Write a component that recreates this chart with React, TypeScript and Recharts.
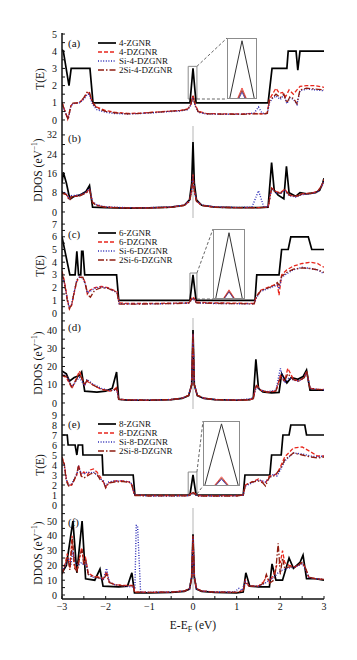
import React from 'react';
import { LineChart, Line, XAxis, YAxis, ReferenceLine, ReferenceArea } from 'recharts';

type Pt = [number, number];

// shared x ticks (E - E_F, eV)
const xTicks = [-3, -2.5, -2, -1.5, -1, -0.5, 0, 0.5, 1, 1.5, 2, 2.5, 3];

// ---- panel (a): T(E), 4-wide ribbons
const aNames = ['4-ZGNR', '4-DZGNR', 'Si-4-DZGNR', '2Si-4-DZGNR'];
const aYTicks = [0, 0.5, 1, 1.5, 2, 2.5, 3, 3.5, 4, 4.5, 5];
const aZ: Pt[] = [[-3, 4.1], [-2.97, 4], [-2.84, 2], [-2.79, 3], [-2.36, 3], [-2.29, 1], [-0.07, 1], [0, 3], [0.07, 1], [1.72, 1], [1.81, 3], [2.15, 3], [2.18, 4], [2.36, 4], [2.4, 2.9], [2.45, 4], [3, 4]];
const aD: Pt[] = [[-3, 1.05], [-2.93, 0.5], [-2.87, 0.05], [-2.8, 0.8], [-2.76, 0.95], [-2.62, 1.0], [-2.5, 1.25], [-2.42, 1.6], [-2.38, 1.55], [-2.3, 1.0], [-2.2, 0.75], [-2.0, 0.55], [-1.8, 0.45], [-1.5, 0.38], [-1.2, 0.4], [-0.9, 0.45], [-0.6, 0.5], [-0.3, 0.55], [-0.12, 0.65], [-0.05, 0.9], [0, 1.45], [0.05, 0.9], [0.12, 0.5], [0.3, 0.38], [0.7, 0.35], [1.1, 0.35], [1.4, 0.38], [1.6, 0.35], [1.7, 0.4], [1.75, 1.2], [1.82, 1.5], [1.9, 1.85], [1.98, 1.55], [2.05, 1.6], [2.12, 1.35], [2.2, 1.75], [2.3, 1.5], [2.38, 1.75], [2.45, 1.95], [2.6, 2.0], [2.8, 2.0], [3, 1.9]];
const aS: Pt[] = [[-3, 0.95], [-2.93, 0.45], [-2.86, 0.05], [-2.8, 0.75], [-2.75, 0.95], [-2.6, 1.0], [-2.5, 1.2], [-2.42, 1.5], [-2.38, 1.5], [-2.3, 0.9], [-2.2, 0.6], [-2.0, 0.45], [-1.8, 0.38], [-1.5, 0.35], [-1.2, 0.38], [-0.9, 0.42], [-0.6, 0.48], [-0.3, 0.52], [-0.12, 0.6], [-0.05, 0.85], [0, 1.3], [0.05, 0.8], [0.12, 0.45], [0.3, 0.35], [0.7, 0.33], [1.1, 0.33], [1.4, 0.4], [1.5, 0.75], [1.58, 0.4], [1.7, 0.35], [1.75, 1.0], [1.82, 1.25], [1.9, 1.4], [2.0, 1.2], [2.08, 1.45], [2.15, 0.95], [2.22, 1.3], [2.3, 1.2], [2.38, 0.9], [2.45, 1.7], [2.6, 1.8], [2.8, 1.75], [3, 1.7]];
const aT: Pt[] = [[-3, 1.0], [-2.93, 0.5], [-2.86, 0.02], [-2.8, 0.8], [-2.75, 0.98], [-2.6, 1.0], [-2.5, 1.3], [-2.42, 1.65], [-2.37, 1.6], [-2.3, 1.0], [-2.2, 0.7], [-2.0, 0.5], [-1.8, 0.42], [-1.5, 0.36], [-1.2, 0.38], [-0.9, 0.44], [-0.6, 0.5], [-0.3, 0.55], [-0.12, 0.62], [-0.05, 0.9], [0, 1.4], [0.05, 0.85], [0.12, 0.48], [0.3, 0.36], [0.7, 0.34], [1.1, 0.33], [1.4, 0.36], [1.6, 0.35], [1.7, 0.38], [1.75, 1.1], [1.82, 1.3], [1.9, 1.5], [2.0, 1.3], [2.08, 1.5], [2.15, 1.0], [2.22, 1.35], [2.3, 1.25], [2.38, 0.95], [2.45, 1.75], [2.6, 1.85], [2.8, 1.8], [3, 1.75]];
// zoomed peak at E_F (inset)
const aInZ: Pt[] = [[-0.87, 0], [0, 0.97], [0.87, 0]];
const aInD: Pt[] = [[-0.3, 0], [0, 0.17], [0.3, 0]];
const aInS: Pt[] = [[-0.2, 0], [0, 0.1], [0.2, 0]];
const aInT: Pt[] = [[-0.25, 0], [0, 0.13], [0.25, 0]];

// ---- panel (b): DDOS, 4-wide
const bYTicks = [0, 4, 8, 12, 16, 20, 24, 28, 32];
const bZ: Pt[] = [[-3, 12], [-2.97, 16.5], [-2.9, 12], [-2.84, 7], [-2.8, 5.5], [-2.72, 6.5], [-2.6, 7], [-2.45, 8.5], [-2.37, 11], [-2.3, 2], [-2.0, 1.8], [-1.5, 1.6], [-1.0, 1.7], [-0.5, 2.0], [-0.2, 2.8], [-0.08, 5], [-0.03, 12], [0, 29], [0.03, 12], [0.08, 5], [0.2, 2.8], [0.5, 2.0], [1.0, 1.8], [1.5, 1.8], [1.72, 2.0], [1.8, 20.5], [1.86, 9], [1.95, 7], [2.08, 5.5], [2.14, 19], [2.2, 8], [2.35, 6.5], [2.45, 8], [2.6, 7.5], [2.8, 8], [2.9, 9], [2.97, 12], [3, 14]];
const bD: Pt[] = [[-3, 8], [-2.9, 7.5], [-2.83, 5], [-2.78, 6.5], [-2.6, 6.8], [-2.45, 8], [-2.37, 9.5], [-2.3, 4], [-2.2, 2.8], [-2.0, 2.0], [-1.5, 1.7], [-1.0, 1.7], [-0.5, 2.0], [-0.2, 2.8], [-0.08, 4.5], [-0.03, 9], [0, 15.5], [0.03, 9], [0.08, 4.5], [0.2, 2.8], [0.5, 2.0], [1.0, 1.8], [1.5, 1.8], [1.72, 2.0], [1.8, 10], [1.9, 8.5], [2.0, 8], [2.1, 9.5], [2.2, 7], [2.35, 6.5], [2.5, 7.5], [2.7, 7.8], [2.85, 8.5], [2.95, 11], [3, 13.5]];
const bS: Pt[] = [[-3, 8.5], [-2.9, 7.8], [-2.83, 5.2], [-2.78, 6.8], [-2.6, 7], [-2.45, 8.2], [-2.37, 9.8], [-2.3, 4.2], [-2.2, 3], [-2.0, 2.1], [-1.5, 1.8], [-1.0, 1.8], [-0.5, 2.1], [-0.2, 2.9], [-0.08, 4.6], [-0.03, 9], [0, 15], [0.03, 9], [0.08, 4.6], [0.2, 2.9], [0.5, 2.1], [1.0, 1.9], [1.35, 2.0], [1.5, 8.8], [1.62, 2.2], [1.72, 2.2], [1.8, 9.5], [1.9, 8], [2.0, 7.5], [2.1, 9], [2.2, 6.8], [2.35, 6.2], [2.5, 7.2], [2.7, 7.6], [2.85, 8.2], [2.95, 10.5], [3, 13]];
const bT: Pt[] = [[-3, 7.8], [-2.9, 7.2], [-2.83, 4.8], [-2.78, 6.3], [-2.6, 6.6], [-2.45, 7.8], [-2.37, 9.2], [-2.3, 3.8], [-2.2, 2.7], [-2.0, 1.9], [-1.5, 1.7], [-1.0, 1.7], [-0.5, 1.9], [-0.2, 2.7], [-0.08, 4.4], [-0.03, 8.5], [0, 15], [0.03, 8.5], [0.08, 4.4], [0.2, 2.7], [0.5, 1.9], [1.0, 1.8], [1.5, 1.8], [1.72, 2.0], [1.8, 9.8], [1.9, 8.2], [2.0, 7.8], [2.1, 9.2], [2.2, 7.2], [2.35, 6.4], [2.5, 7.4], [2.7, 7.7], [2.85, 8.4], [2.95, 10.8], [3, 13.2]];

// ---- panel (c): T(E), 6-wide
const cNames = ['6-ZGNR', '6-DZGNR', 'Si-6-DZGNR', '2Si-6-DZGNR'];
const cYTicks = [0, 0.5, 1, 1.5, 2, 2.5, 3, 3.5, 4, 4.5, 5, 5.5, 6, 6.5, 7];
const cZ: Pt[] = [[-3, 6], [-2.82, 3], [-2.7, 3], [-2.66, 4.85], [-2.62, 3], [-2.57, 3], [-2.55, 4.85], [-2.52, 4.85], [-2.48, 3], [-1.75, 3], [-1.7, 1], [-0.07, 1], [0, 3], [0.07, 1], [1.42, 1], [1.46, 3], [1.97, 3], [2.03, 5], [2.18, 5], [2.24, 6], [2.64, 6], [2.72, 5], [3, 5]];
const cD: Pt[] = [[-3, 3.3], [-2.95, 2.6], [-2.88, 1.2], [-2.83, 0.3], [-2.78, 0.6], [-2.72, 1.6], [-2.66, 2.5], [-2.6, 2.8], [-2.52, 2.8], [-2.47, 2.4], [-2.42, 1.5], [-2.36, 1.8], [-2.25, 2.0], [-2.1, 2.1], [-1.95, 2.0], [-1.82, 1.8], [-1.74, 1.7], [-1.69, 0.8], [-1.5, 0.75], [-1.0, 0.75], [-0.5, 0.78], [-0.1, 0.8], [0, 1.3], [0.08, 0.85], [0.5, 0.8], [1.0, 0.78], [1.4, 0.75], [1.45, 1.3], [1.55, 1.8], [1.7, 2.0], [1.85, 2.2], [1.93, 2.3], [1.97, 1.4], [2.03, 3.0], [2.15, 3.4], [2.3, 3.7], [2.5, 3.9], [2.7, 4.0], [2.85, 3.9], [3, 3.6]];
const cS: Pt[] = [[-3, 3.0], [-2.95, 2.4], [-2.88, 1.1], [-2.83, 0.45], [-2.78, 0.7], [-2.72, 1.7], [-2.66, 2.6], [-2.6, 2.85], [-2.52, 2.75], [-2.47, 2.3], [-2.42, 1.6], [-2.36, 1.7], [-2.25, 1.95], [-2.1, 2.05], [-1.95, 1.95], [-1.82, 1.75], [-1.74, 1.6], [-1.69, 0.75], [-1.5, 0.72], [-1.0, 0.72], [-0.5, 0.75], [-0.1, 0.78], [0, 1.15], [0.08, 0.8], [0.5, 0.75], [1.0, 0.74], [1.4, 0.72], [1.45, 1.2], [1.55, 1.7], [1.7, 1.9], [1.85, 2.1], [1.93, 2.2], [1.97, 1.9], [2.03, 2.8], [2.15, 3.1], [2.3, 3.4], [2.5, 3.6], [2.7, 3.5], [2.85, 3.4], [3, 3.1]];
const cT: Pt[] = [[-3, 3.1], [-2.95, 2.5], [-2.88, 1.0], [-2.83, 0.35], [-2.78, 0.65], [-2.72, 1.65], [-2.66, 2.6], [-2.6, 2.8], [-2.52, 2.8], [-2.47, 2.3], [-2.4, 1.4], [-2.35, 1.25], [-2.25, 1.8], [-2.1, 2.0], [-1.95, 1.95], [-1.82, 1.75], [-1.74, 1.65], [-1.69, 0.7], [-1.5, 0.7], [-1.0, 0.72], [-0.5, 0.74], [-0.1, 0.78], [0, 1.2], [0.08, 0.8], [0.5, 0.76], [1.0, 0.74], [1.4, 0.72], [1.45, 1.25], [1.55, 1.75], [1.7, 1.95], [1.85, 2.15], [1.93, 2.4], [1.97, 2.2], [2.03, 2.9], [2.15, 3.2], [2.3, 3.45], [2.5, 3.55], [2.7, 3.5], [2.85, 3.4], [3, 3.2]];
const cInZ: Pt[] = [[-0.88, 0], [0, 0.96], [0.88, 0]];
const cInD: Pt[] = [[-0.35, 0], [0, 0.12], [0.35, 0]];
const cInS: Pt[] = [[-0.28, 0], [0, 0.09], [0.28, 0]];
const cInT: Pt[] = [[-0.32, 0], [0, 0.1], [0.32, 0]];

// ---- panel (d): DDOS, 6-wide
const dYTicks = [0, 5, 10, 15, 20, 25, 30, 35, 40, 45];
const dZ: Pt[] = [[-3, 17.5], [-2.9, 16], [-2.83, 12], [-2.72, 14], [-2.6, 15], [-2.55, 17], [-2.48, 6.5], [-2.2, 6], [-2.0, 6.5], [-1.85, 8], [-1.75, 17], [-1.7, 2], [-1.5, 1.6], [-1.0, 1.5], [-0.5, 1.8], [-0.25, 2.5], [-0.1, 4], [-0.03, 10], [0, 40], [0.03, 10], [0.1, 4], [0.25, 2.5], [0.5, 1.8], [1.0, 1.5], [1.3, 1.8], [1.38, 2.5], [1.44, 24], [1.5, 8], [1.6, 6], [1.8, 5.5], [1.97, 5.8], [2.03, 16], [2.15, 11], [2.25, 14], [2.4, 13], [2.52, 14.5], [2.6, 18], [2.68, 7], [3, 7]];
const dD: Pt[] = [[-3, 15], [-2.9, 14], [-2.77, 8], [-2.68, 13], [-2.6, 17.5], [-2.55, 14], [-2.48, 10], [-2.43, 12], [-2.3, 10], [-2.1, 7.5], [-1.9, 6.5], [-1.8, 7.5], [-1.75, 8.5], [-1.7, 2], [-1.5, 1.7], [-1.0, 1.6], [-0.5, 1.9], [-0.25, 2.6], [-0.1, 4.2], [-0.03, 10], [0, 38], [0.03, 10], [0.1, 4.2], [0.25, 2.6], [0.5, 1.9], [1.0, 1.6], [1.3, 1.8], [1.38, 2.5], [1.45, 10], [1.55, 7], [1.7, 6], [1.9, 6.5], [2.0, 15], [2.1, 12], [2.17, 19], [2.3, 13], [2.42, 12], [2.55, 14], [2.6, 17.5], [2.68, 8], [2.85, 7.5], [3, 7.5]];
const dS: Pt[] = [[-3, 16], [-2.9, 15], [-2.77, 9], [-2.68, 12], [-2.6, 14], [-2.55, 12], [-2.48, 9.5], [-2.43, 13], [-2.3, 10.5], [-2.1, 8], [-1.9, 6.8], [-1.8, 7], [-1.75, 7.5], [-1.7, 2], [-1.5, 1.7], [-1.0, 1.6], [-0.5, 1.9], [-0.25, 2.6], [-0.1, 4.2], [-0.03, 10], [0, 38], [0.03, 10], [0.1, 4.2], [0.25, 2.6], [0.5, 1.9], [1.0, 1.7], [1.3, 2.2], [1.38, 2.8], [1.45, 9], [1.55, 7], [1.7, 6.2], [1.9, 7], [2.0, 19], [2.1, 11], [2.2, 14], [2.3, 12.5], [2.42, 12], [2.55, 14], [2.6, 17], [2.68, 8], [2.85, 7.5], [3, 7.2]];
const dT: Pt[] = [[-3, 15.5], [-2.9, 14.5], [-2.77, 8.5], [-2.68, 12.5], [-2.6, 16], [-2.55, 13.5], [-2.48, 9.8], [-2.43, 12.5], [-2.3, 10], [-2.1, 7.5], [-1.9, 6.6], [-1.8, 7.2], [-1.75, 8], [-1.7, 2], [-1.5, 1.7], [-1.0, 1.6], [-0.5, 1.9], [-0.25, 2.6], [-0.1, 4.2], [-0.03, 10], [0, 38], [0.03, 10], [0.1, 4.2], [0.25, 2.6], [0.5, 1.9], [1.0, 1.6], [1.3, 1.8], [1.38, 2.6], [1.45, 9.5], [1.55, 7], [1.7, 6], [1.9, 6.6], [2.0, 14], [2.1, 12], [2.17, 16], [2.3, 12.8], [2.42, 12], [2.55, 14], [2.6, 17.5], [2.68, 8], [2.85, 7.5], [3, 7.3]];

// ---- panel (e): T(E), 8-wide
const eNames = ['8-ZGNR', '8-DZGNR', 'Si-8-DZGNR', '2Si-8-DZGNR'];
const eYTicks = [0, 1, 2, 3, 4, 5, 6, 7, 8, 9];
const eZ: Pt[] = [[-3, 7], [-2.88, 7], [-2.86, 6], [-2.7, 6], [-2.66, 5], [-2.63, 6], [-2.53, 6], [-2.52, 5], [-2.08, 5], [-2.06, 3], [-1.37, 3], [-1.33, 1], [-0.07, 1], [0, 3], [0.07, 1], [1.15, 1], [1.19, 3], [1.76, 3], [1.8, 5], [2.02, 5], [2.06, 7], [2.2, 7], [2.24, 8], [2.56, 8], [2.6, 7], [3, 7]];
const eD: Pt[] = [[-3, 4.8], [-2.95, 4.2], [-2.9, 2.6], [-2.85, 2.0], [-2.78, 2.0], [-2.72, 2.5], [-2.66, 3.0], [-2.62, 4.0], [-2.56, 3.0], [-2.5, 3.3], [-2.42, 3.0], [-2.35, 3.5], [-2.28, 3.6], [-2.2, 3.3], [-2.12, 2.8], [-2.05, 2.3], [-2.0, 1.8], [-1.93, 2.2], [-1.8, 2.4], [-1.6, 2.4], [-1.45, 2.3], [-1.4, 2.0], [-1.34, 1.0], [-1.0, 0.95], [-0.5, 0.95], [-0.1, 0.95], [0, 1.3], [0.1, 0.95], [0.5, 0.92], [1.0, 0.95], [1.15, 1.0], [1.2, 2.0], [1.35, 2.3], [1.5, 2.6], [1.6, 2.3], [1.66, 2.2], [1.75, 2.9], [1.85, 3.0], [1.92, 3.1], [2.0, 3.8], [2.1, 4.8], [2.3, 5.7], [2.5, 5.8], [2.7, 5.3], [2.85, 4.9], [3, 4.9]];
const eS: Pt[] = [[-3, 4.5], [-2.95, 4.0], [-2.9, 2.5], [-2.85, 2.0], [-2.78, 2.1], [-2.72, 2.6], [-2.66, 3.1], [-2.62, 3.8], [-2.56, 3.2], [-2.5, 3.1], [-2.42, 3.3], [-2.35, 3.2], [-2.28, 3.3], [-2.2, 3.0], [-2.12, 2.6], [-2.05, 2.4], [-2.0, 1.9], [-1.93, 2.3], [-1.8, 2.4], [-1.6, 2.4], [-1.45, 2.3], [-1.4, 2.1], [-1.34, 1.0], [-1.0, 0.9], [-0.5, 0.9], [-0.1, 0.92], [0, 1.2], [0.1, 0.9], [0.5, 0.9], [1.0, 0.92], [1.15, 1.0], [1.2, 1.9], [1.35, 2.2], [1.5, 2.5], [1.6, 2.4], [1.66, 2.3], [1.75, 2.7], [1.85, 3.1], [1.92, 2.9], [2.0, 3.5], [2.1, 4.4], [2.3, 5.2], [2.5, 5.1], [2.7, 4.9], [2.85, 4.8], [3, 4.9]];
const eT: Pt[] = [[-3, 4.6], [-2.95, 4.1], [-2.9, 2.4], [-2.85, 1.9], [-2.78, 2.0], [-2.72, 2.5], [-2.66, 3.2], [-2.62, 3.9], [-2.56, 2.9], [-2.5, 2.7], [-2.42, 2.9], [-2.35, 3.1], [-2.28, 3.2], [-2.2, 3.1], [-2.12, 2.5], [-2.05, 2.3], [-2.0, 1.7], [-1.93, 2.2], [-1.8, 2.3], [-1.6, 2.35], [-1.45, 2.25], [-1.4, 2.0], [-1.34, 0.95], [-1.0, 0.9], [-0.5, 0.92], [-0.1, 0.92], [0, 1.25], [0.1, 0.9], [0.5, 0.9], [1.0, 0.9], [1.15, 1.0], [1.2, 2.0], [1.35, 2.3], [1.5, 2.4], [1.6, 2.2], [1.66, 1.9], [1.75, 2.8], [1.85, 2.9], [1.92, 3.2], [2.0, 3.6], [2.1, 4.5], [2.3, 5.2], [2.5, 5.0], [2.7, 4.8], [2.85, 4.7], [3, 4.8]];
const eInZ: Pt[] = [[-0.95, 0], [0, 0.97], [0.95, 0]];
const eInD: Pt[] = [[-0.38, 0], [0, 0.13], [0.38, 0]];
const eInS: Pt[] = [[-0.3, 0], [0, 0.09], [0.3, 0]];
const eInT: Pt[] = [[-0.34, 0], [0, 0.11], [0.34, 0]];

// ---- panel (f): DDOS, 8-wide
const fYTicks = [0, 5, 10, 15, 20, 25, 30, 35, 40, 45, 50, 55];
const fZ: Pt[] = [[-3, 15], [-2.9, 20], [-2.75, 50], [-2.66, 15], [-2.54, 50], [-2.46, 11], [-2.25, 10], [-2.13, 17.5], [-2.06, 6], [-1.7, 5.5], [-1.5, 6], [-1.4, 15], [-1.34, 1.5], [-1.0, 1.5], [-0.5, 1.8], [-0.2, 2.5], [-0.08, 4], [-0.03, 12], [0, 41], [0.03, 12], [0.08, 4], [0.2, 2.5], [0.5, 1.8], [1.0, 1.5], [1.15, 2], [1.21, 15], [1.3, 6], [1.5, 5.5], [1.75, 5.5], [1.81, 21], [1.9, 10], [2.05, 10], [2.2, 25], [2.3, 18], [2.45, 22], [2.52, 27], [2.6, 11], [2.8, 11], [3, 10]];
const fD: Pt[] = [[-3, 15], [-2.92, 22], [-2.88, 28], [-2.82, 18], [-2.77, 40], [-2.72, 20], [-2.66, 17], [-2.6, 25], [-2.55, 32], [-2.5, 22], [-2.46, 25], [-2.4, 15], [-2.3, 13], [-2.15, 12], [-2.05, 11], [-1.98, 16], [-1.92, 9], [-1.8, 7], [-1.6, 6.5], [-1.45, 6.5], [-1.36, 6.5], [-1.34, 2], [-1.0, 1.8], [-0.5, 2.0], [-0.2, 2.7], [-0.08, 4.2], [-0.03, 12], [0, 40], [0.03, 12], [0.08, 4.2], [0.2, 2.7], [0.5, 2.0], [1.0, 1.8], [1.15, 3], [1.2, 10], [1.28, 6], [1.5, 6], [1.62, 9], [1.68, 13], [1.75, 9], [1.85, 14], [1.92, 20], [2.0, 22], [2.05, 30], [2.1, 22], [2.2, 20], [2.35, 19], [2.5, 22], [2.58, 18], [2.65, 12], [2.8, 11], [3, 10.5]];
const fS: Pt[] = [[-3, 16], [-2.92, 20], [-2.85, 25], [-2.8, 20], [-2.75, 30], [-2.7, 22], [-2.62, 20], [-2.55, 22], [-2.5, 20], [-2.45, 22], [-2.4, 14], [-2.3, 12], [-2.15, 11.5], [-2.05, 10.5], [-1.98, 18], [-1.92, 9], [-1.8, 7], [-1.6, 6], [-1.4, 5.5], [-1.33, 5], [-1.3, 47], [-1.27, 47], [-1.2, 2], [-1.0, 1.8], [-0.5, 2.0], [-0.2, 2.7], [-0.08, 4.2], [-0.03, 12], [0, 40], [0.03, 12], [0.08, 4.2], [0.2, 2.7], [0.5, 2.0], [0.95, 2], [1.05, 4.5], [1.12, 3], [1.2, 9], [1.28, 6], [1.5, 6], [1.65, 8], [1.75, 10], [1.85, 12], [1.95, 15], [2.05, 17], [2.15, 18], [2.35, 19], [2.5, 21], [2.58, 17], [2.65, 12], [2.8, 11], [3, 10.5]];
const fT: Pt[] = [[-3, 14], [-2.92, 21], [-2.87, 26], [-2.82, 17], [-2.76, 38], [-2.71, 18], [-2.65, 16], [-2.58, 28], [-2.54, 30], [-2.5, 20], [-2.46, 24], [-2.4, 14], [-2.3, 12.5], [-2.15, 11.5], [-2.05, 10.5], [-1.98, 14], [-1.92, 8.5], [-1.8, 7], [-1.6, 6.2], [-1.45, 6.2], [-1.36, 6.2], [-1.34, 2], [-1.0, 1.8], [-0.5, 2.0], [-0.2, 2.7], [-0.08, 4.2], [-0.03, 12], [0, 40], [0.03, 12], [0.08, 4.2], [0.2, 2.7], [0.5, 2.0], [1.0, 1.8], [1.15, 3], [1.2, 8], [1.28, 6], [1.5, 6], [1.62, 8], [1.68, 14], [1.75, 8], [1.85, 10], [1.9, 18], [1.95, 35], [2.0, 14], [2.05, 25], [2.1, 18], [2.2, 19], [2.35, 19], [2.5, 22], [2.58, 18], [2.65, 12], [2.8, 11], [3, 10.5]];

const FONT = '"Liberation Serif", "Times New Roman", serif';
const PL = 62; // plot left px
const PR = 324; // plot right px

const STYLES = [
  { color: '#000000', dash: undefined as string | undefined, width: 1.7 },
  { color: '#e8261c', dash: '4 2', width: 1.3 },
  { color: '#2a2ab5', dash: '1 1.6', width: 1.4 },
  { color: '#8e1d10', dash: '6 2 1.5 2', width: 1.3 },
];

interface Inset {
  box: [number, number, number, number]; // small box in data coords x1,x2,y1,y2
  left: number; top: number; w: number; h: number; // big box, px
  curves: Pt[][];
}

interface PanelCfg {
  top: number;
  bottom: number;
  domain: [number, number];
  yTicks: number[];
  major: number;
  series: Pt[][];
  zeroLine?: boolean;
  showX?: boolean;
  inset?: Inset;
}

const toXY = (pts: Pt[]) => pts.map(([x, y]) => ({ x, y }));
const fmtX = (v: number) => (Number.isInteger(v) ? (v < 0 ? '\u2212' + Math.abs(v) : String(v)) : '');

const panels: PanelCfg[] = [
  { top: 33, bottom: 126, domain: [-0.35, 5.06], yTicks: aYTicks, major: 1, series: [aZ, aD, aS, aT],
    inset: { box: [-0.11, 0.09, 1.22, 3.12], left: 227, top: 38, w: 30, h: 61, curves: [aInZ, aInD, aInS, aInT] } },
  { top: 126, bottom: 218, domain: [-2.5, 35.7], yTicks: bYTicks, major: 8, series: [bZ, bD, bS, bT], zeroLine: true },
  { top: 218, bottom: 318, domain: [-0.39, 7.48], yTicks: cYTicks, major: 1, series: [cZ, cD, cS, cT],
    inset: { box: [-0.07, 0.09, 1.1, 3.15], left: 213, top: 229, w: 32, h: 70, curves: [cInZ, cInD, cInS, cInT] } },
  { top: 318, bottom: 409, domain: [-3.3, 46.6], yTicks: dYTicks, major: 10, series: [dZ, dD, dS, dT], zeroLine: true },
  { top: 409, bottom: 508, domain: [-0.3, 9.6], yTicks: eYTicks, major: 1, series: [eZ, eD, eS, eT],
    inset: { box: [-0.11, 0.09, 1.1, 3.3], left: 203, top: 421, w: 37, h: 65, curves: [eInZ, eInD, eInS, eInT] } },
  { top: 508, bottom: 599, domain: [-2.7, 58.8], yTicks: fYTicks, major: 10, series: [fZ, fD, fS, fT], zeroLine: true, showX: true },
];

const axisLine = { stroke: '#111', strokeWidth: 1.5 };
const tickLine = { stroke: '#111', strokeWidth: 1 };
const tickText = { fontSize: 10, fill: '#111', fontFamily: FONT };

function Panel({ p }: { p: PanelCfg }) {
  const pad = 6;
  const xH = p.showX ? 24 : 0;
  const h = p.bottom - p.top;
  const [d0, d1] = p.domain;
  const toDX = (px: number) => -3 + ((px - PL) / (PR - PL)) * 6;
  const toDY = (py: number) => d1 - ((py - p.top) / h) * (d1 - d0);
  const fmtY = (v: number) => (Math.abs(v / p.major - Math.round(v / p.major)) < 1e-6 ? String(v) : '');
  const ins = p.inset;
  return (
    <div style={{ position: 'absolute', left: 0, top: p.top - pad }}>
      <LineChart width={357} height={h + 2 * pad + xH} margin={{ top: pad, bottom: pad, left: PL - 30, right: 357 - PR }}>
        <XAxis xAxisId="b" type="number" dataKey="x" domain={[-3, 3]} allowDataOverflow ticks={xTicks} interval={0}
          tickFormatter={p.showX ? fmtX : () => ''} height={xH} axisLine={axisLine} tickLine={tickLine}
          tickSize={-3} tickMargin={p.showX ? 7 : 0} tick={tickText} />
        <XAxis xAxisId="t" orientation="top" type="number" dataKey="x" domain={[-3, 3]} allowDataOverflow ticks={xTicks}
          interval={0} tickFormatter={() => ''} height={0} axisLine={axisLine} tickLine={tickLine} tickSize={-3} />
        <YAxis yAxisId="l" type="number" domain={p.domain} allowDataOverflow ticks={p.yTicks} interval={0}
          tickFormatter={fmtY} width={30} axisLine={axisLine} tickLine={tickLine} tickSize={-3} tickMargin={8} tick={tickText} />
        <YAxis yAxisId="r" orientation="right" type="number" domain={p.domain} allowDataOverflow ticks={p.yTicks}
          interval={0} tickFormatter={() => ''} width={0} axisLine={axisLine} tickLine={tickLine} tickSize={-3} />
        {p.zeroLine && <ReferenceLine xAxisId="b" yAxisId="l" x={0} stroke="#b5b5b5" strokeWidth={1} />}
        {p.series.map((s, i) => (
          <Line key={i} xAxisId="b" yAxisId="l" data={toXY(s)} dataKey="y" type="linear" dot={false}
            stroke={STYLES[i].color} strokeWidth={STYLES[i].width} strokeDasharray={STYLES[i].dash}
            isAnimationActive={false} />
        ))}
        {ins && (
          <ReferenceArea xAxisId="b" yAxisId="l" x1={ins.box[0]} x2={ins.box[1]} y1={ins.box[2]} y2={ins.box[3]}
            fill="none" fillOpacity={0} stroke="#8c8c8c" strokeWidth={1} />
        )}
        {ins && (
          <ReferenceLine xAxisId="b" yAxisId="l" stroke="#555" strokeDasharray="3 2" strokeWidth={0.9}
            segment={[{ x: ins.box[1], y: ins.box[3] }, { x: toDX(ins.left), y: toDY(ins.top) }]} />
        )}
        {ins && (
          <ReferenceLine xAxisId="b" yAxisId="l" stroke="#555" strokeDasharray="3 2" strokeWidth={0.9}
            segment={[{ x: ins.box[1], y: ins.box[2] }, { x: toDX(ins.left), y: toDY(ins.top + ins.h) }]} />
        )}
      </LineChart>
    </div>
  );
}

function InsetChart({ ins }: { ins: Inset }) {
  return (
    <div style={{ position: 'absolute', left: ins.left, top: ins.top, width: ins.w, height: ins.h, border: '1px solid #8c8c8c', boxSizing: 'border-box', background: '#fff' }}>
      <LineChart width={ins.w - 2} height={ins.h - 2} margin={{ top: 0, bottom: 0, left: 0, right: 0 }}>
        <XAxis type="number" dataKey="x" domain={[-1, 1]} allowDataOverflow hide />
        <YAxis type="number" domain={[0, 1]} allowDataOverflow hide />
        {ins.curves.map((s, i) => (
          <Line key={i} data={toXY(s)} dataKey="y" type="linear" dot={false}
            stroke={i === 0 ? '#333' : STYLES[i].color} strokeWidth={i === 0 ? 1 : 0.8} isAnimationActive={false} />
        ))}
      </LineChart>
    </div>
  );
}

const legends = [
  { names: aNames, top: 43 },
  { names: cNames, top: 233 },
  { names: eNames, top: 424 },
];

const yLabels = [
  { text: 'T(E)', y: 79, ddos: false },
  { text: 'DDOS (eV', y: 170, ddos: true },
  { text: 'T(E)', y: 266, ddos: false },
  { text: 'DDOS (eV', y: 363, ddos: true },
  { text: 'T(E)', y: 465, ddos: false },
  { text: 'DDOS (eV', y: 553, ddos: true },
];

const letters = [
  { t: '(a)', y: 47 },
  { t: '(b)', y: 142 },
  { t: '(c)', y: 238 },
  { t: '(d)', y: 331 },
  { t: '(e)', y: 428 },
  { t: '(f)', y: 526 },
];

export default function App() {
  return (
    <div style={{ position: 'absolute', left: 0, top: 0, width: 357, height: 660, background: '#fff', overflow: 'hidden' }}>
      {panels.map((p, i) => <Panel key={i} p={p} />)}
      {panels.map((p, i) => (p.inset ? <InsetChart key={'i' + i} ins={p.inset} /> : null))}
      <svg width={357} height={660} style={{ position: 'absolute', left: 0, top: 0, pointerEvents: 'none' }}>
        {yLabels.map((l, i) => (
          <text key={i} transform={`translate(${l.ddos ? 39 : 41},${l.y}) rotate(-90)`} textAnchor="middle"
            dominantBaseline="middle" fontFamily={FONT} fontSize={11.5} fill="#111">
            {l.text}
            {l.ddos && <tspan dy={-4} fontSize={7.5}>{'\u22121'}</tspan>}
            {l.ddos && <tspan dy={4}>)</tspan>}
          </text>
        ))}
        {letters.map((l, i) => (
          <text key={i} x={68} y={l.y} fontFamily={FONT} fontSize={11} fill="#111">{l.t}</text>
        ))}
        {legends.map((lg, i) => (
          <g key={i}>
            {lg.names.map((n, j) => (
              <g key={j}>
                <line x1={98} x2={116} y1={lg.top + j * 9} y2={lg.top + j * 9} stroke={STYLES[j].color}
                  strokeWidth={STYLES[j].width} strokeDasharray={STYLES[j].dash} />
                <text x={119} y={lg.top + j * 9 + 3} fontFamily={FONT} fontSize={9} fill="#111">{n}</text>
              </g>
            ))}
          </g>
        ))}
        <text x={193} y={629} textAnchor="middle" fontFamily={FONT} fontSize={11.5} fill="#111">
          E-E<tspan dy={3} fontSize={8}>F</tspan><tspan dy={-3}> (eV)</tspan>
        </text>
      </svg>
    </div>
  );
}
